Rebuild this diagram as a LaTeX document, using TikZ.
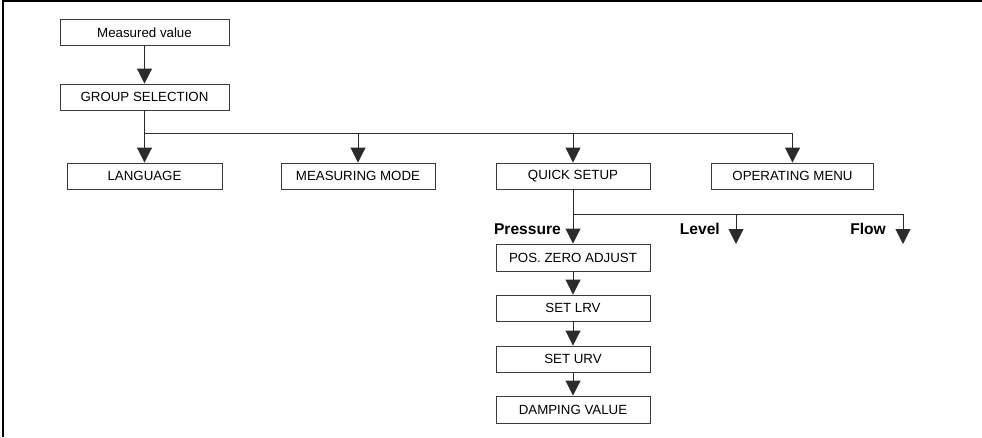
\documentclass[tikz,border=0pt]{standalone}
\usepackage{fontspec}
\setmainfont{Liberation Sans}
\usepackage{xcolor}
\usepackage{tikz}
\usetikzlibrary{arrows.meta,positioning}
\definecolor{linec}{HTML}{2B2B2B}
\definecolor{boxc}{HTML}{3A3A3A}
\tikzset{
  ln/.style={line width=0.9pt,linec},
  ar/.style={-{Triangle[width=15pt,length=15pt]},line width=0.9pt,linec},
  box/.style={draw=boxc,line width=0.9pt,fill=white,minimum height=26pt,inner sep=0pt,font=\fontsize{13.3}{16}\selectfont},
  lbl/.style={font=\fontsize{15.6}{18}\selectfont\bfseries,inner sep=0pt,anchor=east}
}

\begin{document}
\begin{tikzpicture}[x=1pt,y=-1pt]
\useasboundingbox (0,0) rectangle (982,437);
\draw[line width=1.2pt,black] (3,437) |- (982,1);
% main branch
\node[box,minimum width=169pt] (mval) at (144.5,32.5) {Measured value};
\node[box,minimum width=169pt] (grpsel) at (144.5,97) {GROUP SELECTION};
\node[box,minimum width=155pt] (lang) at (144.5,176) {LANGUAGE};
\node[box,minimum width=154pt] (mmode) at (358,176) {MEASURING MODE};
\node[box,minimum width=154pt] (qsetup) at (573,176) {QUICK SETUP};
\node[box,minimum width=162pt] (opmenu) at (792.5,176) {OPERATING MENU};
\coordinate (br1) at (144.5,133);
\draw[ar] (mval) -- (grpsel);
\draw[ln] (grpsel) -- (br1) -- (br1 -| opmenu);
\foreach \n in {lang,mmode,qsetup,opmenu}
  \draw[ar] (br1 -| \n) -- (\n);
% quick setup
\node[box,minimum width=154pt,minimum height=27pt] (zero) at (573,257.5) {POS. ZERO ADJUST};
\node[box,minimum width=154pt] (lrv) at (573,308) {SET LRV};
\node[box,minimum width=154pt] (urv) at (573,359) {SET URV};
\node[box,minimum width=154pt,minimum height=27pt] (damp) at (573,409.5) {DAMPING VALUE};
\coordinate (br2) at (573,214);
\coordinate (lvl) at (736,244);
\coordinate (flw) at (903,244);
\draw[ln] (qsetup) -- (br2) -- (br2 -| flw);
\draw[ar] (br2) -- (zero);
\draw[ar] (br2 -| lvl) -- (lvl);
\draw[ar] (br2 -| flw) -- (flw);
\draw[ar] (zero) -- (lrv);
\draw[ar] (lrv) -- (urv);
\draw[ar] (urv) -- (damp);
\node[lbl] (press) at (561,229) {Pressure};
\node[lbl] (level) at (720,229) {Level};
\node[lbl] (flow) at (886,229) {Flow};
\end{tikzpicture}
\end{document}
